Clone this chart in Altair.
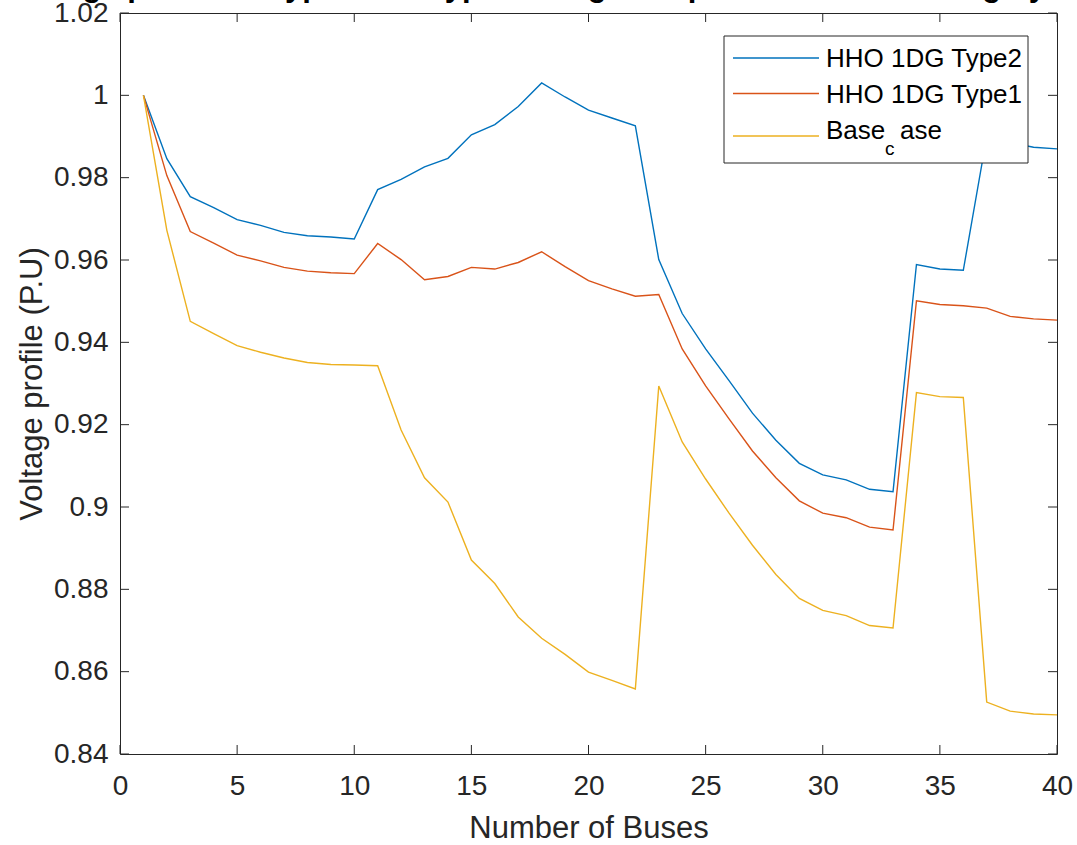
import altair as alt
import pandas as pd

# ---------------- data ----------------
buses = list(range(1, 41))

type2 = [1.0000, 0.9846, 0.9754, 0.9727, 0.9698, 0.9684, 0.9667, 0.9659, 0.9656, 0.9651,
         0.9771, 0.9796, 0.9826, 0.9847, 0.9904, 0.9929, 0.9973, 1.0030, 0.9996, 0.9964,
         0.9945, 0.9926, 0.9601, 0.9470, 0.9384, 0.9307, 0.9228, 0.9162, 0.9106, 0.9078,
         0.9066, 0.9043, 0.9037, 0.9589, 0.9578, 0.9575, 0.9900, 0.9885, 0.9874, 0.9870]

type1 = [1.0000, 0.9805, 0.9669, 0.9641, 0.9612, 0.9598, 0.9582, 0.9573, 0.9569, 0.9567,
         0.9640, 0.9601, 0.9552, 0.9560, 0.9582, 0.9578, 0.9594, 0.9620, 0.9584, 0.9550,
         0.9530, 0.9512, 0.9516, 0.9384, 0.9294, 0.9214, 0.9136, 0.9071, 0.9015, 0.8985,
         0.8974, 0.8951, 0.8944, 0.9501, 0.9492, 0.9489, 0.9483, 0.9463, 0.9457, 0.9454]

base_case = [1.0000, 0.9672, 0.9451, 0.9421, 0.9392, 0.9376, 0.9362, 0.9351, 0.9346, 0.9345,
             0.9343, 0.9187, 0.9071, 0.9012, 0.8871, 0.8814, 0.8733, 0.8681, 0.8642, 0.8599,
             0.8579, 0.8558, 0.9294, 0.9158, 0.9068, 0.8985, 0.8907, 0.8836, 0.8778, 0.8749,
             0.8736, 0.8712, 0.8706, 0.9278, 0.9268, 0.9266, 0.8526, 0.8504, 0.8497, 0.8495]

series_names = ["HHO 1DG Type2", "HHO 1DG Type1", "Base_case"]
series_values = [type2, type1, base_case]
colors = ["#0072BD", "#D95319", "#EDB120"]

x_ticks = [0, 5, 10, 15, 20, 25, 30, 35, 40]
y_ticks = [0.84, 0.86, 0.88, 0.90, 0.92, 0.94, 0.96, 0.98, 1.00, 1.02]

title_text = "Voltage profile of Type1 and Type2 using 1DG placement and sizing by HHO"

# ---------------- layout ----------------
W, H = 937, 741
FONT = "Liberation Sans"
AX = "#262626"
TICK = 9

xscale = alt.Scale(domain=[0, 40], nice=False, zero=False)
yscale = alt.Scale(domain=[0.84, 1.02], nice=False, zero=False)

xaxis = alt.Axis(values=x_ticks, format="d", title="Number of Buses", grid=False,
                 domain=False, ticks=False, labelFontSize=28, titleFontSize=31,
                 labelPadding=18, titlePadding=13, labelColor=AX, titleColor=AX,
                 labelFlush=False, labelOverlap=False,
                 titleFontWeight="normal", labelFont=FONT, titleFont=FONT)
yaxis = alt.Axis(values=y_ticks, format=".2~f", title="Voltage profile (P.U)", grid=False,
                 domain=False, ticks=False, labelFontSize=28, titleFontSize=31,
                 labelPadding=12, titlePadding=5, labelColor=AX, titleColor=AX,
                 labelFlush=False, labelOverlap=False,
                 titleFontWeight="normal", labelFont=FONT, titleFont=FONT)

layers = []
for name, vals, col in zip(series_names, series_values, colors):
    df = pd.DataFrame({"bus": buses, "v": vals, "series": name})
    layers.append(
        alt.Chart(df).mark_line(strokeWidth=1.4, clip=True, color=col).encode(
            x=alt.X("bus:Q", scale=xscale, axis=xaxis),
            y=alt.Y("v:Q", scale=yscale, axis=yaxis),
            detail="series:N")
    )

# inward ticks on all four sides (MATLAB box style)
xt = pd.DataFrame({"bus": x_ticks})
yt = pd.DataFrame({"v": y_ticks})
tick_layers = [
    alt.Chart(xt).mark_rule(color=AX, strokeWidth=1).encode(
        x=alt.X("bus:Q", scale=xscale, axis=xaxis), y=alt.value(H), y2=alt.value(H - TICK)),
    alt.Chart(xt).mark_rule(color=AX, strokeWidth=1).encode(
        x=alt.X("bus:Q", scale=xscale, axis=xaxis), y=alt.value(0), y2=alt.value(TICK)),
    alt.Chart(yt).mark_rule(color=AX, strokeWidth=1).encode(
        y=alt.Y("v:Q", scale=yscale, axis=yaxis), x=alt.value(0), x2=alt.value(TICK)),
    alt.Chart(yt).mark_rule(color=AX, strokeWidth=1).encode(
        y=alt.Y("v:Q", scale=yscale, axis=yaxis), x=alt.value(W), x2=alt.value(W - TICK)),
]

# legend (drawn by hand to keep MATLAB's TeX subscript in "Base_case")
one = pd.DataFrame({"a": [0]})
LX0, LX1, LY0, LY1 = 604, 908, 23, 150
legend_layers = [
    alt.Chart(one).mark_rect(fill="white", stroke=AX, strokeWidth=1).encode(
        x=alt.value(LX0), x2=alt.value(LX1), y=alt.value(LY0), y2=alt.value(LY1))
]
leg_y = [45, 80.5, 123]
txt_y = [46, 81.5, 118]
for name, col, ly in zip(series_names, colors, leg_y):
    legend_layers.append(
        alt.Chart(one).mark_rule(color=col, strokeWidth=1.4).encode(
            x=alt.value(613), x2=alt.value(699), y=alt.value(ly)))
legend_layers.append(alt.Chart(one).mark_text(
    text=series_names[0], font=FONT, fontSize=26, align="left", baseline="middle",
    color="black").encode(x=alt.value(706), y=alt.value(txt_y[0])))
legend_layers.append(alt.Chart(one).mark_text(
    text=series_names[1], font=FONT, fontSize=26, align="left", baseline="middle",
    color="black").encode(x=alt.value(706), y=alt.value(txt_y[1])))
legend_layers.append(alt.Chart(one).mark_text(
    text="Base", font=FONT, fontSize=26, align="left", baseline="middle",
    color="black").encode(x=alt.value(706), y=alt.value(txt_y[2])))
legend_layers.append(alt.Chart(one).mark_text(
    text="c", font=FONT, fontSize=19, align="left", baseline="middle",
    color="black").encode(x=alt.value(765), y=alt.value(136)))
legend_layers.append(alt.Chart(one).mark_text(
    text="ase", font=FONT, fontSize=26, align="left", baseline="middle",
    color="black").encode(x=alt.value(780), y=alt.value(txt_y[2])))

# title, mostly above the visible page as in the original figure
title_layer = alt.Chart(pd.DataFrame({"t": [title_text]})).mark_text(
    font=FONT, fontSize=31, fontWeight="bold", align="left", baseline="alphabetic",
    color="black").encode(x=alt.value(-111), y=alt.value(-17), text="t:N")

chart = alt.layer(*layers, *tick_layers, *legend_layers, title_layer).properties(
    width=W, height=H,
    autosize=alt.AutoSizeParams(type="none"),
    padding={"left": 120, "top": 13, "right": 20, "bottom": 91},
    background="white",
).configure_view(stroke=AX, strokeWidth=1)

chart.save("out.html", embed_options={"renderer": "svg", "actions": False})
